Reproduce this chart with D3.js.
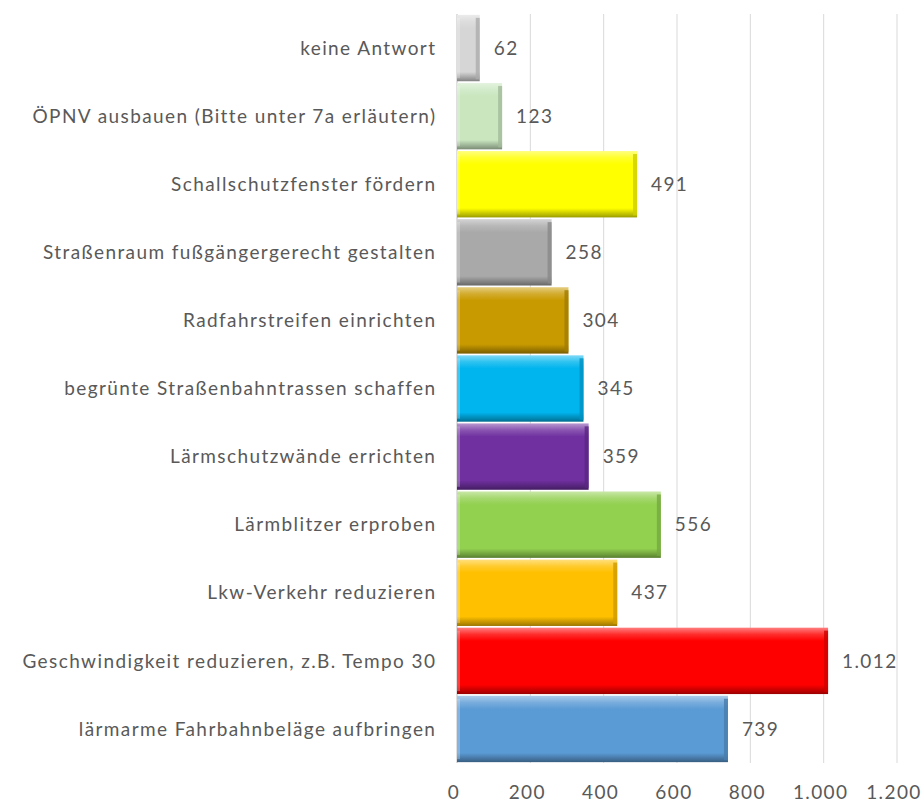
<!DOCTYPE html>
<html><head><meta charset="utf-8">
<script src="https://cdn.jsdelivr.net/npm/d3@7"></script>
<style>body{margin:0;background:#fff}svg{display:block}</style>
</head><body>
<svg id="c" width="922" height="803"></svg>
<script>
const categories = [
  "keine Antwort",
  "ÖPNV ausbauen (Bitte unter 7a erläutern)",
  "Schallschutzfenster fördern",
  "Straßenraum fußgängergerecht gestalten",
  "Radfahrstreifen einrichten",
  "begrünte Straßenbahntrassen schaffen",
  "Lärmschutzwände errichten",
  "Lärmblitzer erproben",
  "Lkw-Verkehr reduzieren",
  "Geschwindigkeit reduzieren, z.B. Tempo 30",
  "lärmarme Fahrbahnbeläge aufbringen"
];
const values = [62, 123, 491, 258, 304, 345, 359, 556, 437, 1012, 739];
const colors = ["#d6d6d6","#c9e6bf","#ffff00","#a9a9a9","#c89a00","#00b4ee","#7030a0","#92d050","#ffc000","#ff0000","#5b9bd5"];
const ticks = [0, 200, 400, 600, 800, 1000, 1200];

(function () {
const svg = d3.select("#c");
const pLeft = 457, pRight = 897, pTop = 14, pBottom = 763;
const x = d3.scaleLinear().domain([0, 1200]).range([pLeft, pRight]);
const y = d3.scaleBand().domain(categories).range([pTop, pBottom]).paddingInner(0.025).paddingOuter(0.0125);
const de = d3.formatLocale({decimal: ",", thousands: ".", grouping: [3], currency: ["", "€"]});
const fmt = de.format(",");
const font = "Lato, 'Open Sans', sans-serif";
const fsize = 19, ls = 1.4;
const textColor = "#595959";

// gridlines
svg.append("g").selectAll("line").data(ticks).join("line")
  .attr("x1", d => x(d)).attr("x2", d => x(d))
  .attr("y1", pTop).attr("y2", pBottom)
  .attr("stroke", d => d === 0 ? "#bfbfbf" : "#d9d9d9").attr("stroke-width", 1);

// gradients
const defs = svg.append("defs");
colors.forEach((c, i) => {
  const base = d3.color(c);
  const light = d3.interpolateRgb(c, "#ffffff")(0.5);
  const dark = base.darker(0.9);
  const g = defs.append("linearGradient").attr("id", "g" + i)
    .attr("x1", 0).attr("y1", 0).attr("x2", 0).attr("y2", 1);
  [[0, light], [0.1, d3.interpolateRgb(c, "#ffffff")(0.18)], [0.2, c], [0.86, c], [0.96, dark.toString()], [1, dark.darker(0.5).toString()]]
    .forEach(([o, col]) => g.append("stop").attr("offset", o).attr("stop-color", col));
});

const bars = svg.append("g").selectAll("g").data(categories).join("g");
bars.append("rect")
  .attr("x", x(0)).attr("y", d => y(d))
  .attr("width", (d, i) => x(values[i]) - x(0))
  .attr("height", y.bandwidth())
  .attr("fill", (d, i) => `url(#g${i})`);
// right-edge bevel shading
bars.append("rect")
  .attr("x", (d, i) => x(values[i]) - 4).attr("y", d => y(d) + 3)
  .attr("width", 4).attr("height", y.bandwidth() - 5)
  .attr("fill", (d, i) => d3.color(colors[i]).darker(0.6)).attr("opacity", 0.8);
// left-edge highlight
bars.append("rect")
  .attr("x", x(0)).attr("y", d => y(d) + 3)
  .attr("width", 3).attr("height", y.bandwidth() - 6)
  .attr("fill", "#ffffff").attr("opacity", 0.25);

// value labels
svg.append("g").selectAll("text").data(categories).join("text")
  .attr("x", (d, i) => x(values[i]) + 14)
  .attr("y", d => y(d) + y.bandwidth() / 2)
  .attr("dy", "0.35em")
  .attr("font-family", font).attr("font-size", fsize).attr("letter-spacing", ls).attr("fill", textColor)
  .text((d, i) => fmt(values[i]));

// category labels
svg.append("g").selectAll("text").data(categories).join("text")
  .attr("x", 435 + ls)
  .attr("y", d => y(d) + y.bandwidth() / 2)
  .attr("dy", "0.35em")
  .attr("text-anchor", "end")
  .attr("font-family", font).attr("font-size", fsize).attr("letter-spacing", ls).attr("fill", textColor)
  .text(d => d);

// x-axis tick labels
svg.append("g").selectAll("text").data(ticks).join("text")
  .attr("x", d => x(d) - 3).attr("y", 792).attr("dy", "0.35em")
  .attr("text-anchor", "middle")
  .attr("font-family", font).attr("font-size", fsize).attr("letter-spacing", ls).attr("fill", textColor)
  .text(d => fmt(d));
})();
</script>
</body></html>
